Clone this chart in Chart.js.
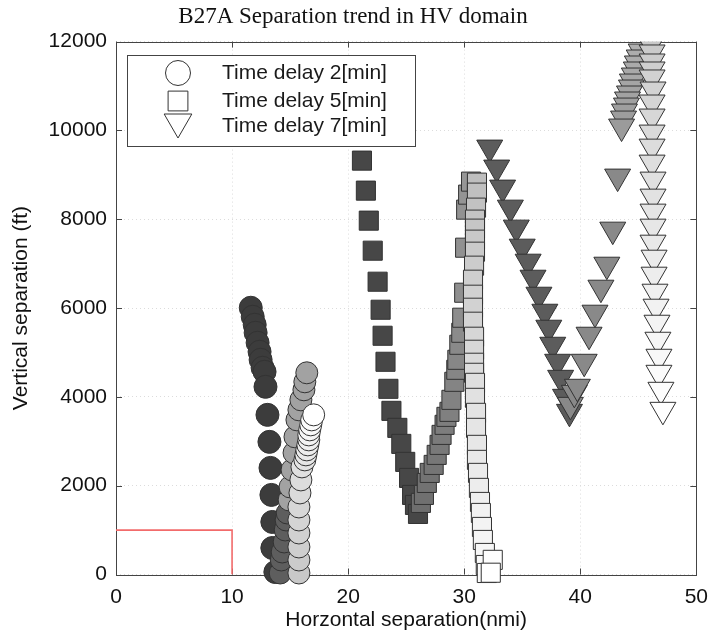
<!DOCTYPE html>
<html>
<head>
<meta charset="utf-8">
<script src="https://cdn.jsdelivr.net/npm/chart.js@4.4.0/dist/chart.umd.min.js"></script>
<style>
  html, body { margin: 0; padding: 0; background: #fff; }
  #wrap { width: 718px; height: 640px; }
</style>
</head>
<body>
<div id="wrap"><canvas id="sepChart" width="718" height="640"></canvas></div>
<script>
"use strict";

// ---- data (nmi / ft) ----
const xTickVals = [0, 10, 20, 30, 40, 50];
const yTickVals = [0, 2000, 4000, 6000, 8000, 10000, 12000];
const legendLabels = ['Time delay 2[min]', 'Time delay 5[min]', 'Time delay 7[min]'];

// red limit box
const limitX = [0, 10, 10];
const limitY = [1000, 1000, 0];

// circles, time delay 2 min
const circDarkX = [11.61, 11.78, 11.95, 12.03, 12.20, 12.37, 12.46, 12.63, 12.80, 12.88, 13.05, 13.22, 13.31, 13.39, 13.47, 13.47, 13.73];
const circDarkY = [6007, 5804, 5624, 5444, 5219, 5016, 4835, 4655, 4565, 4227, 3595, 2987, 2401, 1792, 1183, 597, 56];
const circMidX = [14.15, 14.24, 14.32, 14.49, 14.58, 14.66, 14.75];
const circMidY = [34, 327, 507, 733, 1003, 1228, 1386];
const circGreyX = [14.92, 15.00, 15.17, 15.34, 15.42, 15.59, 15.76, 15.93, 16.19, 16.27, 16.44];
const circGreyY = [1679, 1972, 2355, 2739, 3100, 3482, 3708, 3933, 4159, 4339, 4542];
const circLightX = [15.76, 15.76, 15.76, 15.76, 15.76, 15.76, 15.85, 15.93, 16.02, 16.27, 16.36, 16.44, 16.53, 16.61, 16.61, 16.69, 16.78, 16.86, 17.03];
const circLightY = [34, 327, 620, 935, 1228, 1521, 1837, 2130, 2423, 2581, 2694, 2806, 2919, 3032, 3144, 3257, 3370, 3482, 3595];

// squares, time delay 5 min
const sqDarkX = [21.19, 21.53, 21.78, 22.12, 22.54, 22.80, 22.97, 23.22, 23.47, 23.73, 24.24, 24.58, 24.92, 25.25, 25.51, 25.76, 26.02];
const sqDarkY = [9320, 8644, 7968, 7292, 6593, 5962, 5376, 4790, 4181, 3685, 3302, 2941, 2536, 2175, 1792, 1567, 1364];
const sqMidX = [26.27, 26.53, 26.78, 27.03, 27.37, 27.63, 27.88, 28.05, 28.31, 28.47, 28.73, 28.90, 29.15, 29.32, 29.41, 29.58, 29.75, 29.83, 30.00, 30.08, 30.17, 30.34, 30.59];
const sqMidY = [1612, 1792, 2062, 2288, 2468, 2694, 2919, 3144, 3370, 3550, 3663, 3933, 4339, 4610, 4835, 5173, 5444, 5782, 6345, 7359, 8216, 8554, 8847];
const sqLightX = [31.10, 31.10, 31.02, 30.93, 30.93, 30.93, 30.93, 30.85, 30.76, 30.76, 30.76, 30.76, 30.85, 30.85, 30.85, 30.85, 30.93, 30.93, 31.02, 31.02, 31.10, 31.10, 31.19, 31.27, 31.36, 31.44, 31.53, 31.61, 31.78, 31.86, 31.95, 32.46, 32.29];
const sqLightY = [8824, 8599, 8261, 7991, 7788, 7540, 7269, 6954, 6638, 6300, 6007, 5692, 5354, 5061, 4768, 4542, 4316, 3978, 3640, 3302, 2919, 2581, 2288, 1950, 1634, 1386, 1071, 778, 485, 214, 34, 330, 40];

// triangles, time delay 7 min
const triDarkX = [32.20, 32.80, 33.31, 33.98, 34.49, 35.00, 35.51, 35.93, 36.44, 36.95, 37.29, 37.63, 38.05, 38.31, 38.73, 39.07];
const triDarkY = [9613, 9163, 8712, 8261, 7811, 7382, 7044, 6683, 6300, 5917, 5557, 5173, 4790, 4429, 4001, 3663];
const triMidX = [39.15, 39.49, 39.75, 40.34, 40.76, 41.27, 41.78, 42.29, 42.80, 43.22];
const triMidY = [3820, 4091, 4227, 4790, 5399, 5895, 6458, 6976, 7765, 8960];
const triClusterX = [45.25, 45.08, 44.92, 44.83, 44.66, 44.49, 44.41, 44.24, 44.07, 43.98, 43.81, 43.73, 43.56];
const triClusterY = [11777, 11642, 11507, 11372, 11236, 11101, 10966, 10831, 10696, 10560, 10425, 10267, 10087];
const triLightX = [46.10, 46.19, 46.19, 46.19, 46.19, 46.27, 46.19, 46.19, 46.19, 46.19, 46.19, 46.27, 46.27, 46.27, 46.27, 46.27, 46.36, 46.36, 46.44, 46.53, 46.61, 46.69, 46.78, 46.78, 46.95, 47.12];
const triLightY = [11935, 11755, 11552, 11372, 11192, 10921, 10628, 10312, 9951, 9635, 9275, 8892, 8509, 8171, 7833, 7472, 7134, 6751, 6368, 6030, 5669, 5286, 4903, 4542, 4159, 3708];

// ---- helpers ----
function pts(xs, ys) {
    return xs.map((x, i) => ({x: x, y: ys[i]}));
}
// grey ramp for the colour-coded markers
function ramp(n, from, to) {
    const out = [];
    for (let i = 0; i < n; i++) {
        const t = n > 1 ? i / (n - 1) : 0;
        const g = Math.round(from + (to - from) * t);
        out.push('rgb(' + g + ',' + g + ',' + g + ')');
    }
    return out;
}
function markers(label, xs, ys, style, radius, fill, rotation) {
    return {
        label: label,
        data: pts(xs, ys),
        showLine: false,
        pointStyle: style,
        pointRadius: radius,
        pointHoverRadius: radius,
        pointRotation: rotation || 0,
        pointBackgroundColor: fill,
        pointBorderColor: '#333',
        pointBorderWidth: 1,
        clip: {left: 30, right: 30, top: 0, bottom: 30}
    };
}

// drawing order: first item is drawn first (bottom)
const drawList = [
    {label: 'limit', data: pts(limitX, limitY), showLine: true, borderColor: '#f26b6b', borderWidth: 1.6, pointRadius: 0, fill: false},
    markers('c-dark', circDarkX, circDarkY, 'circle', 11.5, '#3c3c3c'),
    markers('c-mid', circMidX, circMidY, 'circle', 11, '#5e5e5e'),
    markers('c-grey', circGreyX, circGreyY, 'circle', 11, '#a2a2a2'),
    markers('c-light', circLightX, circLightY, 'circle', 11, ramp(circLightX.length, 200, 255)),
    markers('s-dark', sqDarkX, sqDarkY, 'rect', 13.5, '#474747'),
    markers('s-mid', sqMidX, sqMidY, 'rect', 13.5, ramp(sqMidX.length, 110, 150)),
    markers('s-light', sqLightX, sqLightY, 'rect', 13.5, ramp(sqLightX.length, 190, 255)),
    markers('t-dark', triDarkX, triDarkY, 'triangle', 15, '#5c5c5c', 180),
    markers('t-mid', triMidX, triMidY, 'triangle', 15, '#898989', 180),
    markers('t-cluster', triClusterX, triClusterY, 'triangle', 15, ramp(triClusterX.length, 175, 155), 180),
    markers('t-light', triLightX, triLightY, 'triangle', 15, ramp(triLightX.length, 200, 255), 180)
];
drawList.forEach((d, i) => { d.order = drawList.length - i; });

const legendStyles = [
    {pointStyle: 'circle', radius: 12.5, rotation: 0, y: 73, ty: 73},
    {pointStyle: 'rect', radius: 14, rotation: 0, y: 101, ty: 101},
    {pointStyle: 'triangle', radius: 16, rotation: 180, y: 122, ty: 126}
];

// frame + inward ticks (MATLAB look)
const framePlugin = {
    id: 'frame',
    beforeDatasetsDraw(chart) {
        const {ctx, chartArea: a, scales} = chart;
        ctx.save();
        ctx.strokeStyle = '#444';
        ctx.lineWidth = 1;
        ctx.beginPath();
        xTickVals.forEach(v => {
            const px = Math.round(scales.x.getPixelForValue(v)) + 0.5;
            ctx.moveTo(px, a.bottom); ctx.lineTo(px, a.bottom - 6);
            ctx.moveTo(px, a.top); ctx.lineTo(px, a.top + 6);
        });
        yTickVals.forEach(v => {
            const py = Math.round(scales.y.getPixelForValue(v)) + 0.5;
            ctx.moveTo(a.left, py); ctx.lineTo(a.left + 6, py);
            ctx.moveTo(a.right, py); ctx.lineTo(a.right - 6, py);
        });
        ctx.stroke();
        ctx.strokeRect(Math.round(a.left) + 0.5, Math.round(a.top) + 0.5, Math.round(a.right - a.left), Math.round(a.bottom - a.top));
        ctx.restore();
    }
};

// boxed legend inside the axes
const boxLegend = {
    id: 'boxLegend',
    afterDatasetsDraw(chart) {
        const ctx = chart.ctx;
        ctx.save();
        ctx.fillStyle = '#fff';
        ctx.strokeStyle = '#444';
        ctx.lineWidth = 1;
        ctx.fillRect(127.5, 55.5, 288, 91);
        ctx.strokeRect(127.5, 55.5, 288, 91);
        ctx.font = "21px 'Liberation Sans', Arial, sans-serif";
        ctx.textBaseline = 'middle';
        legendLabels.forEach((txt, i) => {
            const st = legendStyles[i];
            ctx.fillStyle = '#fff';
            ctx.strokeStyle = '#333';
            Chart.helpers.drawPoint(ctx, {pointStyle: st.pointStyle, radius: st.radius, rotation: st.rotation, borderWidth: 1}, 178, st.y);
            ctx.fillStyle = '#1a1a1a';
            ctx.fillText(txt, 222, st.ty);
        });
        ctx.restore();
    }
};

Chart.defaults.font.family = "'Liberation Sans', Arial, sans-serif";
Chart.defaults.color = '#111';

const sepChart = new Chart(document.getElementById('sepChart'), {
    type: 'scatter',
    data: {datasets: drawList},
    options: {
        responsive: false,
        animation: false,
        events: [],
        layout: {padding: {left: 0, right: 12, top: 0, bottom: 0}},
        plugins: {
            legend: {display: false},
            tooltip: {enabled: false},
            title: {
                display: true,
                text: 'B27A Separation trend in HV domain',
                color: '#111',
                font: {family: "'Liberation Serif', 'Times New Roman', serif", size: 23, weight: 'normal'},
                padding: {top: 3, bottom: 11}
            }
        },
        scales: {
            x: {
                type: 'linear',
                min: 0, max: 50,
                afterBuildTicks: s => { s.ticks = xTickVals.map(v => ({value: v})); },
                afterFit: s => { s.height = 65.5; },
                ticks: {font: {size: 21}, padding: 10, maxRotation: 0, callback: v => String(v)},
                grid: {color: '#dcdcdc', drawTicks: false},
                border: {display: false, dash: [1, 3]},
                title: {display: true, text: 'Horzontal separation(nmi)', font: {size: 21}, padding: {top: 0, bottom: 7}}
            },
            y: {
                type: 'linear',
                min: 0, max: 12000,
                afterBuildTicks: s => { s.ticks = yTickVals.map(v => ({value: v})); },
                afterFit: s => { s.width = 116; },
                ticks: {font: {size: 21}, padding: 9, callback: v => String(v)},
                grid: {color: '#dcdcdc', drawTicks: false},
                border: {display: false, dash: [1, 3]},
                title: {display: true, text: 'Vertical separation (ft)', font: {size: 21}, padding: {top: 9, bottom: 0}}
            }
        }
    },
    plugins: [framePlugin, boxLegend]
});
</script>
</body>
</html>
